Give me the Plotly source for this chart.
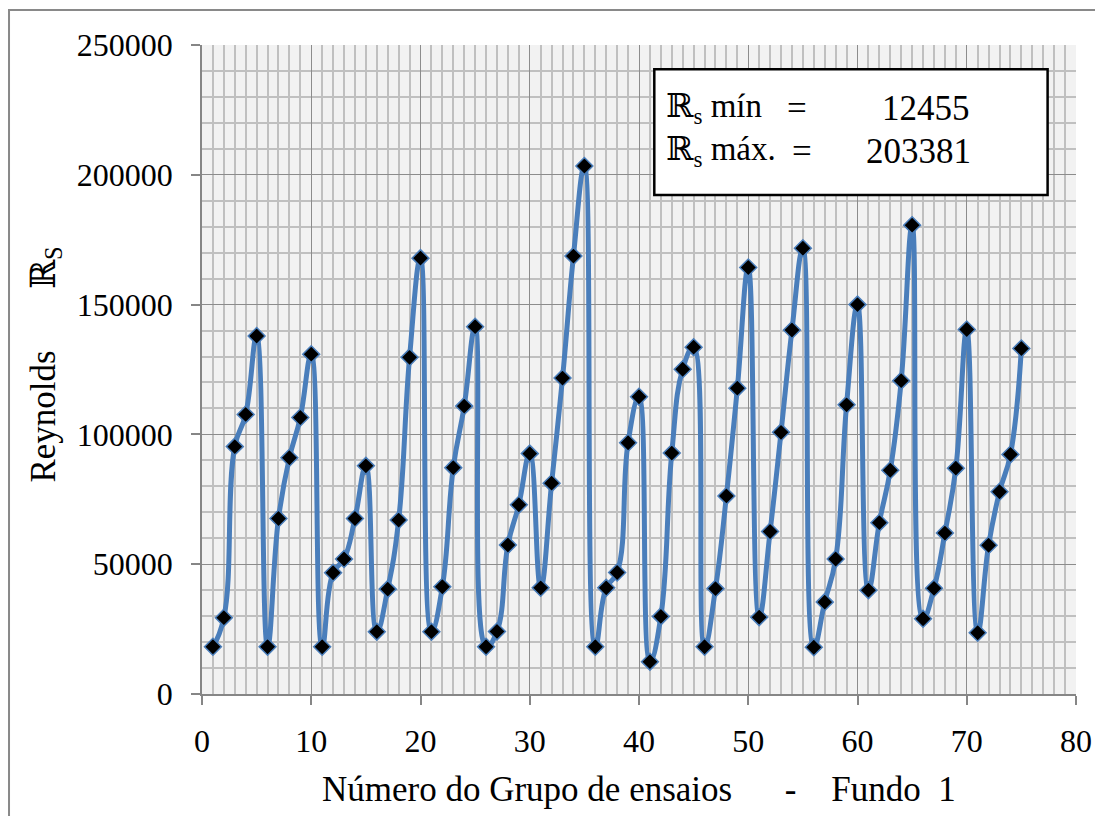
import plotly.graph_objects as go

# ---- data ----
grupo = list(range(1, 76))
reynolds = [
    18200, 29400, 95300, 107700, 137900,
    18200, 67600, 91000, 106500, 130900,
    18200, 46700, 52000, 67600, 87900,
    24000, 40400, 67000, 129700, 167900,
    24000, 41300, 87200, 110900, 141500,
    18200, 24100, 57400, 72900, 92600,
    40900, 81200, 121700, 168700, 203381,
    18200, 40900, 46800, 96800, 114500,
    12455, 29900, 92800, 125100, 133600,
    18200, 40600, 76300, 117800, 164300,
    29600, 62600, 100800, 140200, 171700,
    18000, 35400, 52000, 111400, 150000,
    40000, 66000, 86200, 120700, 180600,
    29000, 40700, 62000, 87000, 140400,
    23600, 57300, 77900, 92300, 133100,
]
rs_min = 12455
rs_max = 203381
x_title = "Número do Grupo de ensaios\u00a0\u00a0\u00a0\u00a0\u00a0\u00a0-\u00a0\u00a0\u00a0\u00a0Fundo\u00a0\u00a01"
y_title = "Reynolds" + "\u00a0" * 7 + "ℝ<sub>S</sub>"

SERIF = "Liberation Serif, Times New Roman, DejaVu Serif, serif"
BLUE = "#4A7EBB"

fig = go.Figure()
fig.add_trace(go.Scatter(
    x=grupo, y=reynolds, mode="lines+markers",
    line=dict(color=BLUE, width=5, shape="spline", smoothing=1.25),
    marker=dict(symbol="diamond", size=13, color="black",
                line=dict(color=BLUE, width=1.5)),
    showlegend=False, cliponaxis=False,
))

axis_common = dict(
    showline=True, linecolor="#868686", linewidth=1.5,
    gridcolor="#8c8c8c", gridwidth=1,
    ticks="outside", ticklen=9, tickcolor="#868686", tickwidth=1.5,
    tickfont=dict(family=SERIF, size=32, color="black"),
    zeroline=False, mirror=False,
)

fig.update_layout(
    width=1103, height=816,
    margin=dict(l=194, r=35, t=37, b=130),
    paper_bgcolor="white", plot_bgcolor="#f2f2f2",
    xaxis=dict(range=[0, 80], dtick=10, tick0=0, tickformat="d",
               minor=dict(dtick=1, showgrid=True, gridcolor="#c0c0c0", gridwidth=1.5),
               ticklabelstandoff=9, **axis_common),
    yaxis=dict(range=[0, 250000], dtick=50000, tick0=0, tickformat="d",
               minor=dict(dtick=10000, showgrid=True, gridcolor="#c0c0c0", gridwidth=1.5),
               ticklabelstandoff=12, **axis_common),
)

# outer chart border
fig.add_shape(type="rect", xref="paper", yref="paper",
              x0=-0.2208, x1=1.06, y0=-0.25, y1=1.0539,
              line=dict(color="#898989", width=2), layer="below")

# info box
fig.add_shape(type="rect", xref="x", yref="y",
              x0=41.4, x1=77.4, y0=192200, y1=240700,
              line=dict(color="black", width=2.5), fillcolor="white", layer="above")

fig.add_annotation(x=42.3, y=225700, xref="x", yref="y", xanchor="left", yanchor="middle",
                   text="ℝ<sub>s</sub> mín", showarrow=False,
                   font=dict(family=SERIF, size=33, color="black"))
fig.add_annotation(x=42.3, y=208800, xref="x", yref="y", xanchor="left", yanchor="middle",
                   text="ℝ<sub>s</sub> máx.", showarrow=False,
                   font=dict(family=SERIF, size=33, color="black"))
fig.add_annotation(x=54.5, y=225700, xref="x", yref="y", xanchor="center", yanchor="middle",
                   text="=", showarrow=False, font=dict(family=SERIF, size=35, color="black"))
fig.add_annotation(x=54.9, y=208800, xref="x", yref="y", xanchor="center", yanchor="middle",
                   text="=", showarrow=False, font=dict(family=SERIF, size=35, color="black"))
fig.add_annotation(x=70.5, y=225700, xref="x", yref="y", xanchor="right", yanchor="middle",
                   text=str(rs_min), showarrow=False, font=dict(family=SERIF, size=35, color="black"))
fig.add_annotation(x=70.6, y=208800, xref="x", yref="y", xanchor="right", yanchor="middle",
                   text=str(rs_max), showarrow=False, font=dict(family=SERIF, size=35, color="black"))

# axis titles
fig.add_annotation(x=0.5, y=-0.147, xref="paper", yref="paper", xanchor="center", yanchor="middle",
                   text=x_title, showarrow=False, font=dict(family=SERIF, size=35, color="black"))
fig.add_annotation(x=-0.179, y=0.507, xref="paper", yref="paper", xanchor="center", yanchor="middle",
                   text=y_title, textangle=-90, showarrow=False,
                   font=dict(family=SERIF, size=35, color="black"))

fig.write_html("out.html")
